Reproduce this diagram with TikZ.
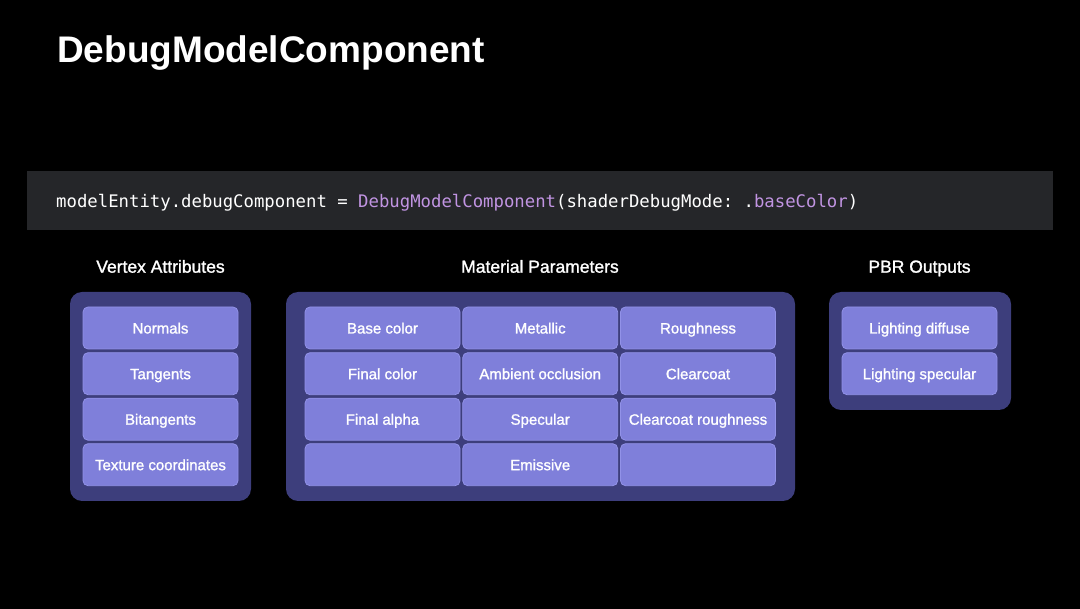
\documentclass[tikz,border=0pt]{standalone}
\usepackage{fontspec}
\setmainfont{Liberation Sans}
\setmonofont{DejaVu Sans Mono}
\newfontfamily\medfont[FakeBold=1.3]{Liberation Sans}
\definecolor{codebg}{RGB}{37,38,41}
\definecolor{codepurple}{RGB}{193,148,226}
\definecolor{groupfill}{RGB}{61,62,124}
\definecolor{cellfill}{RGB}{127,127,218}
\definecolor{celledge}{RGB}{146,146,232}

\begin{document}
\begin{tikzpicture}[x=1pt,y=-1pt,
	group/.style={fill=groupfill, rounded corners=12pt},
	cell/.style={draw=celledge, line width=0.8pt, fill=cellfill, rounded corners=5pt,
		minimum width=155pt, minimum height=42pt, inner sep=0pt,
		text height=11pt, text depth=0pt, text=white,
		font=\medfont\fontsize{15}{18}\selectfont},
	header/.style={anchor=base, inner sep=0pt, text=white,
		font=\medfont\fontsize{17.5}{21}\selectfont}]
	% page
	\fill[black] (0,0) rectangle (1080,609);
	\useasboundingbox (0,0) rectangle (1080,609);
	
	% Title
	\node[anchor=base west, inner sep=0pt, text=white, font=\fontsize{37}{44}\bfseries\selectfont] (title) at (57,62.5) {DebugModelComponent};
	
	% Code line
	\fill[codebg] (27,171) rectangle (1053,230);
	\node[anchor=base west, inner sep=0pt, text=white, font=\ttfamily\fontsize{17.3}{21}\selectfont] (code) at (56,208)
		{modelEntity.debugComponent = \textcolor{codepurple}{DebugModelComponent}(shaderDebugMode: .\textcolor{codepurple}{baseColor})};
	
	% Headers
	\node[header] (vtxhead) at (160.5,272.7) {Vertex Attributes};
	\node[header] (mathead) at (540,272.7) {Material Parameters};
	\node[header] (pbrhead) at (919.5,272.7) {PBR Outputs};
	
	% Groups
	\fill[group] (70,292) rectangle (251,501);
	\fill[group] (286,292) rectangle (795,501);
	\fill[group] (829,292) rectangle (1011,410);
	
	% Vertex attributes
	\node[cell] (normals) at (160.5,328) {Normals};
	\node[cell] (tangents) at (160.5,373.7) {Tangents};
	\node[cell] (bitangents) at (160.5,419.2) {Bitangents};
	\node[cell] (texcoords) at (160.5,464.7) {Texture coordinates};
	
	% Material parameters
	\node[cell] (basecolor) at (382.5,328) {Base color};
	\node[cell] (metallic) at (540.2,328) {Metallic};
	\node[cell] (roughness) at (698,328) {Roughness};
	\node[cell] (finalcolor) at (382.5,373.7) {Final color};
	\node[cell] (ambocc) at (540.2,373.7) {Ambient occlusion};
	\node[cell] (clearcoat) at (698,373.7) {Clearcoat};
	\node[cell] (finalalpha) at (382.5,419.2) {Final alpha};
	\node[cell] (specular) at (540.2,419.2) {Specular};
	\node[cell] (ccrough) at (698,419.2) {Clearcoat roughness};
	\node[cell] (blankleft) at (382.5,464.7) {};
	\node[cell] (emissive) at (540.2,464.7) {Emissive};
	\node[cell] (blankright) at (698,464.7) {};
	
	% PBR outputs
	\node[cell] (lightdiff) at (919.5,328) {Lighting diffuse};
	\node[cell] (lightspec) at (919.5,373.7) {Lighting specular};
\end{tikzpicture}
\end{document}
